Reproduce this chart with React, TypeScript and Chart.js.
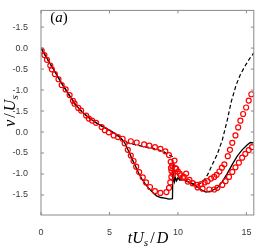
import React, { useEffect, useRef } from "react";
import { Chart, registerables } from "chart.js";

Chart.register(...registerables);

// ---- data (t U_s / D , v / U_s) ----
const solidT = [0, 0.483, 0.988, 1.49, 2.0, 2.5, 3.0, 3.5, 4.02, 4.45, 4.95, 5.46, 5.82, 6.1, 6.4, 6.65, 6.88, 7.12, 7.35, 7.6, 7.84, 8.13, 8.44, 8.74, 9.04, 9.35, 9.6, 9.64, 9.7, 9.75, 9.82, 9.89, 10.0, 10.14, 10.36, 10.72, 11.2, 11.68, 12.04, 12.4, 12.88, 13.24, 13.6, 13.97, 14.33, 14.69, 15.05, 15.28, 15.53];
const solidV = [0, -0.273, -0.545, -0.83, -1.09, -1.34, -1.52, -1.66, -1.78, -1.86, -1.95, -2.05, -2.14, -2.25, -2.46, -2.64, -2.8, -2.97, -3.11, -3.23, -3.33, -3.43, -3.52, -3.56, -3.575, -3.6, -3.59, -2.77, -3.05, -3.18, -3.09, -3.16, -3.09, -3.15, -3.125, -3.18, -3.26, -3.37, -3.43, -3.41, -3.33, -3.18, -2.99, -2.77, -2.575, -2.425, -2.31, -2.25, -2.26];

const dashedT = [0, 0.483, 0.988, 1.49, 2.0, 2.5, 3.0, 3.5, 4.02, 4.45, 4.95, 5.46, 5.82, 6.1, 6.52, 7.0, 7.48, 7.96, 8.44, 8.92, 9.33, 9.6, 9.64, 9.78, 9.93, 10.14, 10.43, 10.72, 11.08, 11.44, 11.8, 12.16, 12.52, 12.88, 13.24, 13.6, 13.9, 14.25, 14.56, 14.92, 15.28, 15.53];
const dashedV = [0, -0.273, -0.545, -0.83, -1.09, -1.34, -1.52, -1.66, -1.78, -1.86, -1.95, -2.05, -2.14, -2.25, -2.27, -2.31, -2.35, -2.37, -2.41, -2.46, -2.54, -2.59, -3.18, -3.09, -3.16, -3.11, -3.15, -3.18, -3.23, -3.25, -3.2, -3.02, -2.77, -2.52, -2.19, -1.72, -1.27, -0.88, -0.63, -0.415, -0.23, -0.12];

const circlesAT = [0.05, 0.433, 0.793, 1.276, 1.8, 2.336, 2.72, 3.295, 3.73, 4.43, 4.95, 5.62, 6.11, 6.34, 6.56, 6.76, 6.95, 7.17, 7.43, 7.67, 7.96, 8.32, 8.72, 9.16, 9.35, 9.44, 9.52, 9.53, 9.57, 9.75, 9.88, 10.12, 10.36, 10.72, 11.08, 11.44, 11.8, 12.29, 12.65, 12.88, 13.24, 13.48, 13.73, 13.97, 14.2, 14.45, 14.69, 14.92, 15.17, 15.41];
const circlesAV = [-0.061, -0.28, -0.507, -0.743, -0.984, -1.257, -1.425, -1.607, -1.727, -1.88, -2.007, -2.12, -2.27, -2.425, -2.56, -2.69, -2.825, -2.955, -3.08, -3.2, -3.31, -3.41, -3.45, -3.43, -3.33, -3.2, -3.07, -2.93, -2.8, -2.68, -2.88, -2.99, -3.09, -3.18, -3.22, -3.32, -3.35, -3.37, -3.37, -3.33, -3.26, -3.17, -3.07, -2.95, -2.84, -2.73, -2.61, -2.52, -2.43, -2.36];

const circlesBT = [0.245, 0.678, 1.01, 1.51, 2.09, 2.45, 2.93, 3.49, 4.02, 4.66, 5.31, 5.96, 6.56, 6.99, 7.53, 7.91, 8.32, 8.72, 9.08, 9.35, 9.47, 9.49, 9.64, 9.81, 10.0, 10.19, 10.43, 10.6, 10.84, 11.08, 11.39, 11.68, 11.95, 12.16, 12.42, 12.65, 12.83, 13.03, 13.21, 13.39, 13.64, 13.8, 13.97, 14.2, 14.4, 14.56, 14.76, 14.98, 15.17, 15.36];
const circlesBV = [-0.166, -0.416, -0.62, -0.88, -1.12, -1.325, -1.49, -1.68, -1.78, -1.955, -2.08, -2.16, -2.22, -2.25, -2.295, -2.325, -2.36, -2.4, -2.46, -2.55, -2.71, -2.86, -3.0, -2.86, -2.94, -3.03, -3.07, -2.99, -3.14, -3.22, -3.26, -3.24, -3.2, -3.17, -3.11, -3.07, -3.02, -2.94, -2.85, -2.77, -2.575, -2.425, -2.257, -2.08, -1.89, -1.73, -1.57, -1.416, -1.25, -1.1];

const xTickValues = [0, 5, 10, 15];
const xTickLabels = ["0", "5", "10", "15"];
const yTickValues = [0.5, 0, -0.5, -1, -1.5, -2, -2.5, -3, -3.5];
const yTickLabels = ["-1.5", "0.0", "-0.5", "-1.0", "-1.5", "0.0", "-0.5", "-1.0", "-1.5"];

const X_MIN = 0;
const X_MAX = 15.54;
const Y_MIN = -3.977;
const Y_MAX = 0.898;

const pts = (t: number[], v: number[]) => t.map((tt, i) => ({ x: tt, y: v[i] }));

const framePlugin = {
  id: "frame",
  afterDatasetsDraw(chart: any) {
    const { ctx, chartArea, scales } = chart;
    const { left, right, top, bottom } = chartArea;
    const xs = scales.x;
    const ys = scales.y;
    ctx.save();
    ctx.strokeStyle = "#8a8a8a";
    ctx.lineWidth = 1;
    ctx.strokeRect(left, top, right - left, bottom - top);
    const L = 3;
    ctx.beginPath();
    xs.ticks.forEach((t: any) => {
      const px = xs.getPixelForValue(t.value);
      ctx.moveTo(px, bottom);
      ctx.lineTo(px, bottom - L);
      ctx.moveTo(px, top);
      ctx.lineTo(px, top + L);
    });
    ys.ticks.forEach((t: any) => {
      const py = ys.getPixelForValue(t.value);
      ctx.moveTo(left, py);
      ctx.lineTo(left + L, py);
      ctx.moveTo(right, py);
      ctx.lineTo(right - L, py);
    });
    ctx.stroke();
    ctx.restore();
  },
};

export default function App() {
  const canvasRef = useRef<HTMLCanvasElement | null>(null);

  useEffect(() => {
    document.body.style.margin = "0";
    const canvas = canvasRef.current;
    if (!canvas) return;
    const tickFont = { family: "'Liberation Sans', Arial, sans-serif", size: 9 };
    const circleStyle = {
      showLine: false,
      pointStyle: "circle",
      pointRadius: 2.5,
      pointBorderWidth: 1.2,
      pointBorderColor: "#ff0000",
      pointBackgroundColor: "rgba(0,0,0,0)",
    };
    const chart = new Chart(canvas, {
      type: "scatter",
      data: {
        datasets: [
          { data: pts(circlesAT, circlesAV), ...circleStyle } as any,
          { data: pts(circlesBT, circlesBV), ...circleStyle } as any,
          {
            data: pts(dashedT, dashedV),
            showLine: true,
            pointRadius: 0,
            borderColor: "#000000",
            borderWidth: 1.2,
            borderDash: [4, 2.5],
            tension: 0,
          },
          {
            data: pts(solidT, solidV),
            showLine: true,
            pointRadius: 0,
            borderColor: "#000000",
            borderWidth: 1.3,
            tension: 0,
          },
        ],
      },
      options: {
        animation: false,
        responsive: false,
        maintainAspectRatio: false,
        layout: { padding: { top: 0.5, right: 2.5, left: 0, bottom: 0 } },
        plugins: { legend: { display: false }, tooltip: { enabled: false } },
        scales: {
          x: {
            type: "linear",
            min: X_MIN,
            max: X_MAX,
            grid: { display: false },
            border: { display: false },
            afterBuildTicks: (s: any) => {
              s.ticks = xTickValues.map((v) => ({ value: v }));
            },
            afterFit: (s: any) => {
              s.height = 33;
            },
            ticks: {
              padding: 4,
              maxRotation: 0,
              color: "#3a3a3a",
              font: tickFont,
              callback: (v: any) => {
                const i = xTickValues.indexOf(Number(v));
                return i >= 0 ? xTickLabels[i] : "";
              },
            },
          },
          y: {
            type: "linear",
            min: Y_MIN,
            max: Y_MAX,
            grid: { display: false },
            border: { display: false },
            afterBuildTicks: (s: any) => {
              s.ticks = yTickValues.map((v) => ({ value: v }));
            },
            afterFit: (s: any) => {
              s.width = 41;
            },
            ticks: {
              padding: 5,
              color: "#3a3a3a",
              font: tickFont,
              callback: (v: any) => {
                const i = yTickValues.findIndex((q) => Math.abs(q - Number(v)) < 1e-6);
                return i >= 0 ? yTickLabels[i] : "";
              },
            },
          },
        },
      },
      plugins: [framePlugin],
    });
    return () => chart.destroy();
  }, []);

  const serif = "'Liberation Serif', 'Times New Roman', serif";
  return (
    <div style={{ position: "relative", width: 259, height: 248, overflow: "hidden" }}>
      <canvas ref={canvasRef} width={259} height={248} style={{ display: "block", width: 259, height: 248 }} />
      <div
        style={{
          position: "absolute",
          left: 59,
          top: 17,
          transform: "translate(-50%, -50%)",
          fontFamily: serif,
          fontSize: 15,
          lineHeight: 1,
          whiteSpace: "nowrap",
          color: "#000",
        }}
      >
        (<i>a</i>)
      </div>
      <div
        style={{
          position: "absolute",
          left: 148,
          top: 238,
          transform: "translate(-50%, -50%)",
          fontFamily: serif,
          fontSize: 16,
          lineHeight: 1,
          whiteSpace: "nowrap",
          color: "#000",
        }}
      >
        <i>tU</i>
        <i style={{ fontSize: "0.7em", position: "relative", top: "0.25em" }}>s</i>
        <span style={{ padding: "0 2px" }}>/</span>
        <i>D</i>
      </div>
      <div
        style={{
          position: "absolute",
          left: 10,
          top: 111,
          transform: "translate(-50%, -50%) rotate(-90deg)",
          fontFamily: serif,
          fontSize: 16,
          lineHeight: 1,
          whiteSpace: "nowrap",
          color: "#000",
        }}
      >
        <i>v</i>
        <span style={{ padding: "0 2px" }}>/</span>
        <i>U</i>
        <i style={{ fontSize: "0.7em", position: "relative", top: "0.25em" }}>s</i>
      </div>
    </div>
  );
}
